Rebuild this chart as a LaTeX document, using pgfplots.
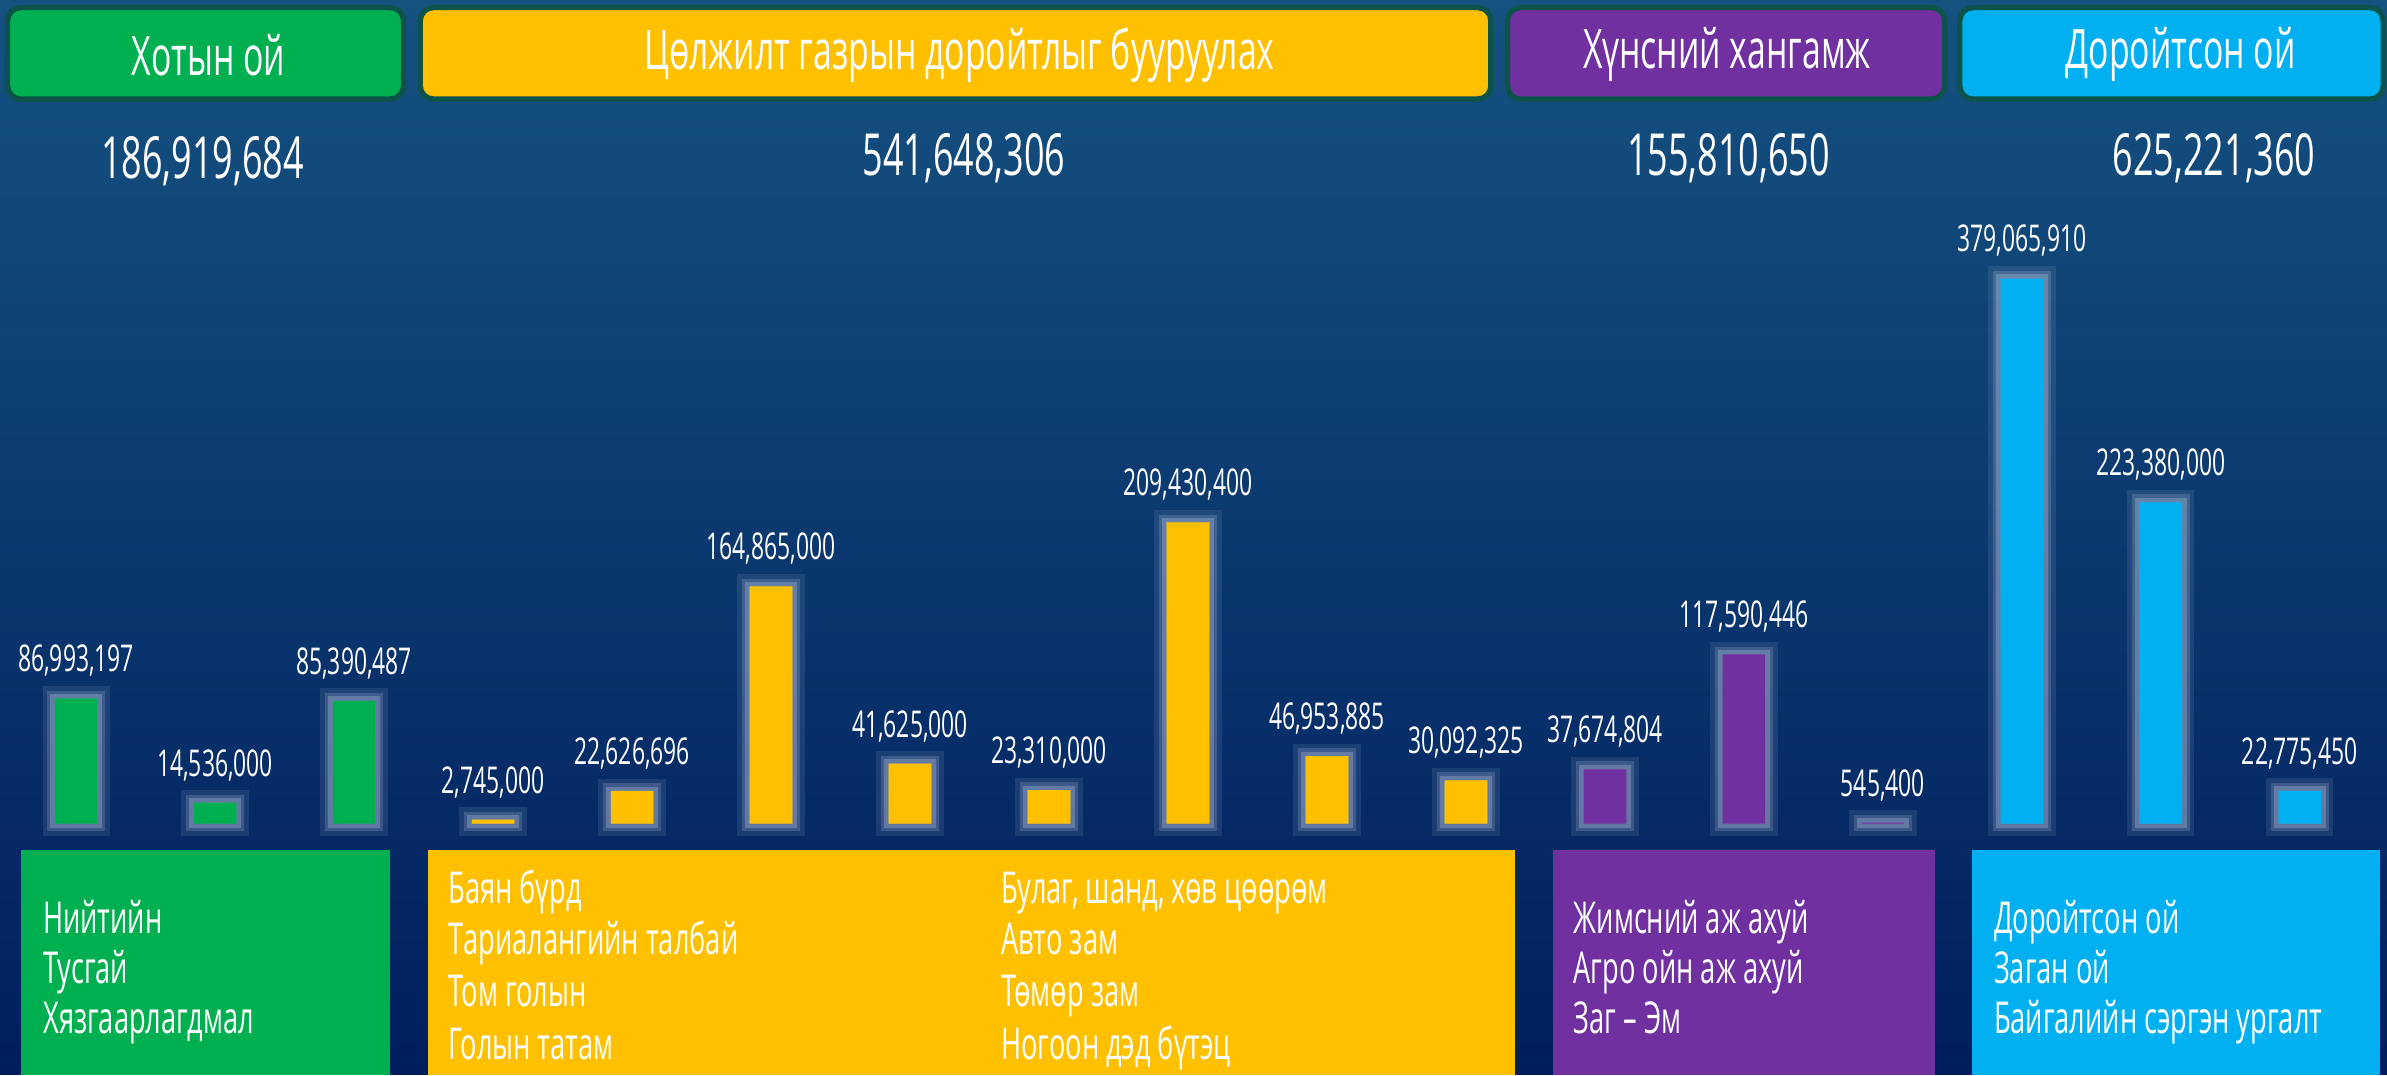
\documentclass[border=0pt]{standalone}
\usepackage{pgfplots}
\pgfplotsset{compat=1.18}
\usepackage{pgfplotstable}
\usepackage{fontspec}
\setmainfont{Open Sans}[FakeStretch=0.62]
\definecolor{cgreen}{RGB}{0,176,80}
\definecolor{cyellow}{RGB}{255,192,0}
\definecolor{cpurple}{RGB}{112,48,160}
\definecolor{ccyan}{RGB}{0,176,240}
\definecolor{bgtop}{RGB}{21,82,128}
\definecolor{bgbot}{RGB}{0,30,94}
\definecolor{hborder}{RGB}{12,84,74}
\definecolor{glow}{RGB}{190,200,225}

\pgfplotstableread{
x y label
0 86993197 86,993,197
1 14536000 14,536,000
2 85390487 85,390,487
}\tgreen
\pgfplotstableread{
x y label
3 2745000 2,745,000
4 22626696 22,626,696
5 164865000 164,865,000
6 41625000 41,625,000
7 23310000 23,310,000
8 209430400 209,430,400
9 46953885 46,953,885
10 30092325 30,092,325
}\tyellow
\pgfplotstableread{
x y label
11 37674804 37,674,804
12 117590446 117,590,446
13 545400 545,400
}\tpurple
\pgfplotstableread{
x y label
14 379065910 379,065,910
15 223380000 223,380,000
16 22775450 22,775,450
}\tcyan

\begin{document}
\begin{tikzpicture}
\shade[top color=bgtop, bottom color=bgbot] (0,0) rectangle (23.870cm,10.747cm);

\begin{axis}[
  at={(0cm,2.5118cm)}, anchor=south west,
  scale only axis, width=23.870cm, height=8.2357cm,
  xmin=-0.5476, xmax=16.627, ymin=0, ymax=572834200,
  hide axis, clip=false,
  ybar, bar width=0.426cm,
  point meta=explicit symbolic,
  nodes near coords,
  nodes near coords style={text=white, font=\fontsize{10.5}{12}\selectfont, anchor=south, inner sep=0pt, yshift=6pt},
  every axis plot/.append style={bar shift=0pt, draw=none,
     preaction={draw=glow, line width=7pt, opacity=0.12},
     preaction={draw=glow, line width=4.5pt, opacity=0.2},
     preaction={draw=glow, line width=2.5pt, opacity=0.3}},
]
\addplot[fill=cgreen] table[x=x,y=y,meta=label]{\tgreen};
\addplot[fill=cyellow] table[x=x,y=y,meta=label]{\tyellow};
\addplot[fill=cpurple] table[x=x,y=y,meta=label]{\tpurple};
\addplot[fill=ccyan] table[x=x,y=y,meta=label]{\tcyan};
\end{axis}

\begin{scope}[shift={(0,10.747cm)}, x=0.015223cm, y=-0.015223cm]
  % header boxes
  \begin{scope}[draw=hborder, line width=1.5pt, rounded corners=0.13cm]
    \draw[fill=cgreen] (5,5) rectangle (265,65);
    \draw[fill=cyellow] (276,5) rectangle (979,65);
    \draw[fill=cpurple] (990,5) rectangle (1277,65);
    \draw[fill=ccyan] (1287,5) rectangle (1565,65);
  \end{scope}
  \begin{scope}[every node/.style={text=white, font=\fontsize{15.5}{18}\selectfont}]
    \node at (137,36) {Хотын ой};
    \node at (630,36) {Цөлжилт газрын доройтлыг бууруулах};
    \node at (1134,36) {Хүнсний хангамж};
    \node at (1432,36) {Доройтсон ой};
  \end{scope}
  \begin{scope}[every node/.style={text=white, font=\fontsize{16.5}{18}\selectfont}]
    \node at (133,106) {186,919,684};
    \node at (633,104) {541,648,306};
    \node at (1135,104) {155,810,650};
    \node at (1454,104) {625,221,360};
  \end{scope}
  % legend boxes
  \fill[cgreen] (14,558) rectangle (256,706);
  \fill[cyellow] (281,558) rectangle (995,706);
  \fill[cpurple] (1020,558) rectangle (1271,706);
  \fill[ccyan] (1295,558) rectangle (1563,706);
  \begin{scope}[every node/.style={text=white, anchor=base west, inner sep=0pt, font=\fontsize{12.5}{15}\selectfont}]
    \node at (28,613) {Нийтийн};
    \node at (28,646) {Тусгай};
    \node at (28,679) {Хязгаарлагдмал};
    \node at (294,593) {Баян бүрд};
    \node at (294,627) {Тариалангийн талбай};
    \node at (294,661) {Том голын};
    \node at (294,696) {Голын татам};
    \node at (657,593) {Булаг, шанд, хөв цөөрөм};
    \node at (657,627) {Авто зам};
    \node at (657,661) {Төмөр зам};
    \node at (657,696) {Ногоон дэд бүтэц};
    \node at (1033,613) {Жимсний аж ахуй};
    \node at (1033,646) {Агро ойн аж ахуй};
    \node at (1033,679) {Заг – Эм};
    \node at (1309,613) {Доройтсон ой};
    \node at (1309,646) {Заган ой};
    \node at (1309,679) {Байгалийн сэргэн ургалт};
  \end{scope}
\end{scope}
\end{tikzpicture}
\end{document}
